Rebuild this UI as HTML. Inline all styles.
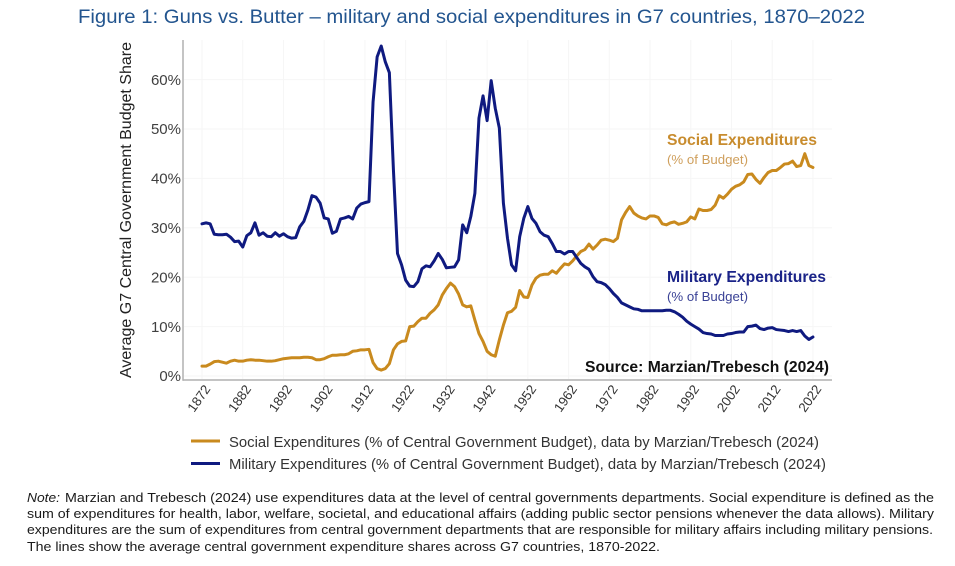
<!DOCTYPE html>
<html lang="en">
<head>
<meta charset="utf-8">
<title>Guns vs. Butter</title>
<style>
html,body{margin:0;padding:0;background:#fff;}
svg{display:block;font-family:"Liberation Sans",Arial,sans-serif;}
</style>
</head>
<body>
<svg id="chart" width="955" height="566" viewBox="0 0 955 566" xmlns="http://www.w3.org/2000/svg">
  <rect width="955" height="566" fill="#ffffff"/>
  <text x="78" y="23" font-size="19.8" fill="#23558f" textLength="787" lengthAdjust="spacingAndGlyphs">Figure 1: Guns vs. Butter – military and social expenditures in G7 countries, 1870–2022</text>
  <text transform="translate(131,378) rotate(-90)" font-size="15.8" fill="#222222" textLength="336" lengthAdjust="spacingAndGlyphs">Average G7 Central Government Budget Share</text>
  <g id="grid"></g>
  <g id="yticks"></g>
  <g id="xticks"></g>
  <line x1="183" y1="40" x2="183" y2="380.7" stroke="#b0b0b0" stroke-width="1.5"/>
  <line x1="183" y1="380" x2="832" y2="380" stroke="#b0b0b0" stroke-width="1.5"/>
  <g id="series"></g>

  <text x="667" y="145" font-size="16" font-weight="bold" fill="#c88c2e" textLength="150" lengthAdjust="spacingAndGlyphs">Social Expenditures</text>
  <text x="667" y="164" font-size="13" fill="#cf9f5c" textLength="81" lengthAdjust="spacingAndGlyphs">(% of Budget)</text>
  <text x="667" y="282" font-size="16" font-weight="bold" fill="#1a2388" textLength="159" lengthAdjust="spacingAndGlyphs">Military Expenditures</text>
  <text x="667" y="301" font-size="13" fill="#3a4296" textLength="81" lengthAdjust="spacingAndGlyphs">(% of Budget)</text>
  <text x="585" y="372" font-size="15.6" font-weight="bold" fill="#111111" textLength="244" lengthAdjust="spacingAndGlyphs">Source: Marzian/Trebesch (2024)</text>

  <g>
    <line x1="191" y1="441" x2="220" y2="441" stroke="#c98a1e" stroke-width="3"/>
    <text x="229" y="447" font-size="15" fill="#333333" textLength="590" lengthAdjust="spacingAndGlyphs">Social Expenditures (% of Central Government Budget), data by Marzian/Trebesch (2024)</text>
    <line x1="191" y1="463.5" x2="220" y2="463.5" stroke="#0f1a80" stroke-width="3"/>
    <text x="229" y="469" font-size="15" fill="#333333" textLength="597" lengthAdjust="spacingAndGlyphs">Military Expenditures (% of Central Government Budget), data by Marzian/Trebesch (2024)</text>
  </g>

  <g font-size="13.2" fill="#1a1a1a">
    <text x="27" y="502" font-style="italic" textLength="33" lengthAdjust="spacingAndGlyphs">Note:</text>
    <text x="65" y="502" textLength="869" lengthAdjust="spacingAndGlyphs">Marzian and Trebesch (2024) use expenditures data at the level of central governments departments. Social expenditure is defined as the</text>
    <text x="27" y="518" textLength="907" lengthAdjust="spacingAndGlyphs">sum of expenditures for health, labor, welfare, societal, and educational affairs (adding public sector pensions whenever the data allows). Military</text>
    <text x="27" y="534" textLength="906" lengthAdjust="spacingAndGlyphs">expenditures are the sum of expenditures from central government departments that are responsible for military affairs including military pensions.</text>
    <text x="27" y="551" textLength="633" lengthAdjust="spacingAndGlyphs">The lines show the average central government expenditure shares across G7 countries, 1870-2022.</text>
  </g>
</svg>
<script>
const startYear = 1872;
const xTickLabels = ["1872","1882","1892","1902","1912","1922","1932","1942","1952","1962","1972","1982","1992","2002","2012","2022"];
const yTickValues = [0,10,20,30,40,50,60];
const militaryValues = [
  30.8,31,30.8,28.7,28.6,28.6,28.7,28.1,27.2,27.3,
  26.1,28.4,29,31,28.5,29,28.3,28.2,29,28.3,
  28.8,28.2,27.9,28,30.2,31.3,33.6,36.5,36.2,35,
  32,31.8,28.9,29.3,31.8,32,32.3,31.8,34,34.8,
  35.1,35.3,55.5,64.6,66.8,63.6,61.4,41.7,24.8,22.5,
  19.4,18.2,18.1,19.1,21.7,22.3,22.1,23.3,24.8,23.6,
  21.9,22,22.1,23.5,30.6,29,32.3,37,52.2,56.7,
  51.7,59.8,54.2,50.2,35,27.9,22.5,21.3,28.2,31.9,
  34.3,31.9,30.9,29.2,28.5,28.2,26.8,25.2,25.2,24.7,
  25.2,25.2,24,22.8,22.1,21.6,20.1,19.1,18.9,18.5,
  17.7,16.7,15.9,14.8,14.4,14,13.6,13.5,13.2,13.2,
  13.2,13.2,13.2,13.2,13.3,13.3,13,12.5,11.9,11.1,
  10.5,10,9.5,8.8,8.6,8.5,8.2,8.2,8.2,8.5,
  8.6,8.8,8.9,8.9,10,10.1,10.3,9.6,9.4,9.7,
  9.8,9.4,9.3,9.2,9,9.2,9,9.2,8.1,7.4,
  7.9
];
const socialValues = [
  2,2,2.4,2.9,3,2.8,2.6,3,3.2,3,
  3,3.2,3.3,3.2,3.2,3.1,3,3,3.1,3.3,
  3.5,3.6,3.7,3.7,3.7,3.8,3.8,3.7,3.3,3.3,
  3.5,3.9,4.2,4.2,4.3,4.3,4.5,5,5.1,5.3,
  5.3,5.4,2.7,1.5,1.2,1.5,2.5,5.3,6.5,7,
  7.1,10,10.1,11,11.7,11.7,12.7,13.4,14.4,16.4,
  17.7,18.8,18.1,16.6,14.4,14,14.2,11.3,8.6,7,
  5,4.3,4,7.3,10.3,12.8,13.1,13.9,17.3,16,
  15.9,18.4,19.8,20.4,20.6,20.6,21.3,20.8,21.8,22.7,
  22.5,23.3,24.3,25.2,25.6,26.7,25.7,26.5,27.5,27.7,
  27.5,27.2,27.9,31.6,33.1,34.3,33,32.4,32,31.8,
  32.4,32.4,32.1,30.8,30.6,31,31.2,30.7,30.9,31.2,
  32.2,31.8,33.8,33.5,33.5,33.7,34.6,36.5,36,36.8,
  37.8,38.4,38.7,39.3,40.8,40.9,39.8,39,40.2,41.2,
  41.6,41.6,42.2,42.9,43,43.5,42.4,42.6,45,42.6,
  42.2
];

const NS = "http://www.w3.org/2000/svg";
function xScale(year) { return 202 + (year - 1872) * 4.073; }
function yScale(pct) { return 376 - pct * 4.94; }
function make(tag, attrs, parent) {
  const el = document.createElementNS(NS, tag);
  for (const k in attrs) el.setAttribute(k, attrs[k]);
  parent.appendChild(el);
  return el;
}
const gridG = document.getElementById("grid");
const yG = document.getElementById("yticks");
const xG = document.getElementById("xticks");
const seriesG = document.getElementById("series");

yTickValues.forEach(function (v) {
  const line = make("line", {x1: 184, x2: 832, y1: yScale(v), y2: yScale(v), stroke: "#f6f6f6", "stroke-width": 1}, gridG);
  
  
  const t = make("text", {x: 181, y: yScale(v) + 5.2, "text-anchor": "end", "font-size": 15, fill: "#404040"}, yG);
  t.textContent = v + "%";
  
  
});

xTickLabels.forEach(function (label) {
  const px = xScale(Number(label));
  const line = make("line", {x1: px, x2: px, y1: 40, y2: 379, stroke: "#f6f6f6", "stroke-width": 1}, gridG);
  
  
  const t = make("text", {transform: "translate(" + (px + 9) + ",389) rotate(-55)", "text-anchor": "end", "font-size": 13.2, fill: "#333333"}, xG);
  t.textContent = label;
  
  
});

function linePath(values) {
  return values.map(function (v, i) {
    return (i ? "L" : "M") + xScale(startYear + i).toFixed(2) + " " + yScale(v).toFixed(2);
  }).join("");
}
const socialLine = make("path", {d: linePath(socialValues), fill: "none", stroke: "#c98a1e", "stroke-width": 3, "stroke-linejoin": "round", "stroke-linecap": "round"}, seriesG);


const militaryLine = make("path", {d: linePath(militaryValues), fill: "none", stroke: "#0f1a80", "stroke-width": 3, "stroke-linejoin": "round", "stroke-linecap": "round"}, seriesG);


</script>
</body>
</html>
